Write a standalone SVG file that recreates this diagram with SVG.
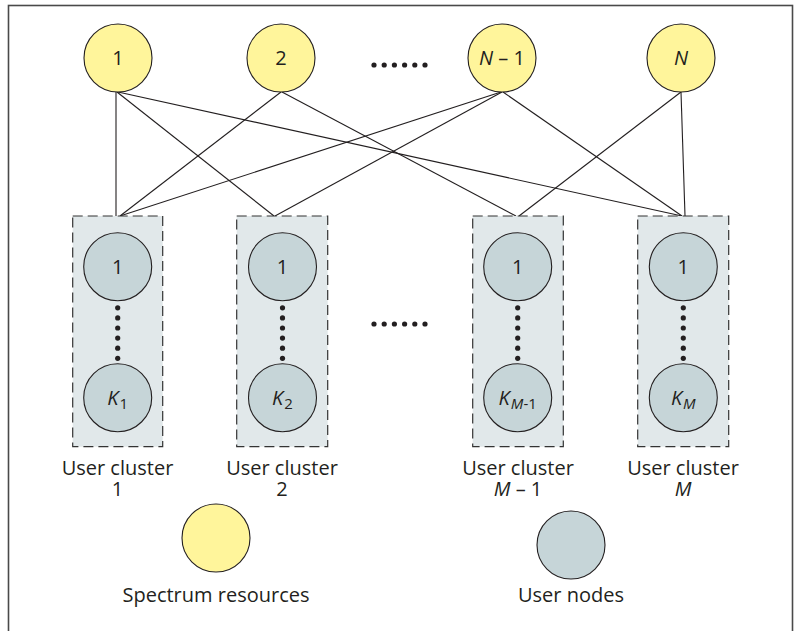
<svg xmlns="http://www.w3.org/2000/svg" width="801" height="631" viewBox="0 0 801 631">
  <style>
    text { font-family: "Open Sans", "Noto Sans", "Liberation Sans", sans-serif; fill: #231f20; }
    .lbl { font-size: 20px; text-anchor: middle; }
    .cap { font-size: 20px; text-anchor: middle; }
    .it { font-style: italic; }
    .sub { font-size: 15px; }
    .res { fill: #fff59b; stroke: #231f20; stroke-width: 1.1; }
    .usr { fill: #c6d5d8; stroke: #231f20; stroke-width: 1.1; }
    .box { fill: #e1e8ea; stroke: #333; stroke-width: 1.2; stroke-dasharray: 10 5; }
    .edge { stroke: #231f20; stroke-width: 1.1; fill: none; }
    .dot { fill: #231f20; }
  </style>
  <defs>
    <g id="vdots">
      <circle class="dot" cx="0" cy="0" r="2.6"/>
      <circle class="dot" cx="0" cy="10.1" r="2.6"/>
      <circle class="dot" cx="0" cy="20.2" r="2.6"/>
      <circle class="dot" cx="0" cy="30.3" r="2.6"/>
      <circle class="dot" cx="0" cy="40.4" r="2.6"/>
      <circle class="dot" cx="0" cy="50.5" r="2.6"/>
    </g>
    <g id="hdots">
      <circle class="dot" cx="0" cy="0" r="2.6"/>
      <circle class="dot" cx="10.2" cy="0" r="2.6"/>
      <circle class="dot" cx="20.4" cy="0" r="2.6"/>
      <circle class="dot" cx="30.6" cy="0" r="2.6"/>
      <circle class="dot" cx="40.8" cy="0" r="2.6"/>
      <circle class="dot" cx="51" cy="0" r="2.6"/>
    </g>
  </defs>

  <rect width="801" height="631" fill="#fff"/>
  <!-- outer frame -->
  <rect x="8.5" y="5.5" width="784" height="640" fill="none" stroke="#4a4a4a" stroke-width="1.6"/>

  <!-- links between spectrum resources and user clusters -->
  <g id="connectors">
    <line class="edge" x1="116" y1="92" x2="116" y2="216"/>
    <line class="edge" x1="117" y1="92" x2="274" y2="216"/>
    <line class="edge" x1="118" y1="92" x2="682" y2="216"/>
    <line class="edge" x1="281" y1="92" x2="120" y2="216"/>
    <line class="edge" x1="282" y1="92" x2="516" y2="216"/>
    <line class="edge" x1="501" y1="92" x2="120" y2="216"/>
    <line class="edge" x1="502" y1="92" x2="275" y2="216"/>
    <line class="edge" x1="503" y1="92" x2="682" y2="216"/>
    <line class="edge" x1="681" y1="92" x2="519" y2="216"/>
    <line class="edge" x1="681" y1="92" x2="685" y2="216"/>
  </g>

  <!-- spectrum resources -->
  <g id="res-1">
    <circle class="res" cx="118" cy="58" r="34"/>
    <text class="lbl" x="118" y="64.5">1</text>
  </g>
  <g id="res-2">
    <circle class="res" cx="281" cy="58" r="34"/>
    <text class="lbl" x="281" y="64.5">2</text>
  </g>
  <g id="res-dots">
    <use href="#hdots" x="374" y="65"/>
  </g>
  <g id="res-n1">
    <circle class="res" cx="502" cy="58" r="34"/>
    <text class="lbl" x="502" y="64.5"><tspan class="it">N</tspan> – 1</text>
  </g>
  <g id="res-n">
    <circle class="res" cx="681" cy="58" r="34"/>
    <text class="lbl it" x="681" y="64.5">N</text>
  </g>

  <!-- user clusters -->
  <g id="cluster-1">
    <rect class="box" x="72.7" y="216" width="90" height="230.7"/>
    <circle class="usr" cx="117.7" cy="266.7" r="34"/>
    <text class="lbl" x="117.7" y="273.5">1</text>
    <use href="#vdots" x="117.7" y="307.8"/>
    <circle class="usr" cx="117.7" cy="397.7" r="34"/>
    <text class="lbl" x="117.7" y="404.5"><tspan class="it">K</tspan><tspan class="sub" dx="1" dy="4">1</tspan></text>
    <text class="cap" x="117.5" y="475">User cluster<tspan x="117.5" dy="21">1</tspan></text>
  </g>
  <g id="cluster-2">
    <rect class="box" x="236.7" y="216" width="91" height="230.7"/>
    <circle class="usr" cx="282.5" cy="266.7" r="34"/>
    <text class="lbl" x="282.5" y="273.5">1</text>
    <use href="#vdots" x="282.5" y="307.8"/>
    <circle class="usr" cx="282.5" cy="397.7" r="34"/>
    <text class="lbl" x="282.5" y="404.5"><tspan class="it">K</tspan><tspan class="sub" dx="1" dy="4">2</tspan></text>
    <text class="cap" x="282" y="475">User cluster<tspan x="282" dy="21">2</tspan></text>
  </g>
  <g id="cluster-dots">
    <use href="#hdots" x="374" y="324"/>
  </g>
  <g id="cluster-m1">
    <rect class="box" x="472.7" y="216" width="90.6" height="230.7"/>
    <circle class="usr" cx="517.7" cy="266.7" r="34"/>
    <text class="lbl" x="517.7" y="273.5">1</text>
    <use href="#vdots" x="517.7" y="307.8"/>
    <circle class="usr" cx="517.7" cy="397.7" r="34"/>
    <text class="lbl" x="517.7" y="404.5"><tspan class="it">K</tspan><tspan class="sub" dx="1" dy="4"><tspan class="it">M</tspan>-1</tspan></text>
    <text class="cap" x="518" y="475">User cluster<tspan x="518" dy="21"><tspan class="it">M</tspan> – 1</tspan></text>
  </g>
  <g id="cluster-m">
    <rect class="box" x="637.7" y="216" width="91" height="230.7"/>
    <circle class="usr" cx="683.3" cy="266.7" r="34"/>
    <text class="lbl" x="683.3" y="273.5">1</text>
    <use href="#vdots" x="683.3" y="307.8"/>
    <circle class="usr" cx="683.3" cy="397.7" r="34"/>
    <text class="lbl" x="683.3" y="404.5"><tspan class="it">K</tspan><tspan class="sub it" dx="1" dy="4">M</tspan></text>
    <text class="cap" x="683" y="475">User cluster<tspan class="it" x="683" dy="21">M</tspan></text>
  </g>

  <!-- legend -->
  <g id="legend-resources">
    <circle class="res" cx="216" cy="538" r="34"/>
    <text class="cap" x="216" y="601.5">Spectrum resources</text>
  </g>
  <g id="legend-users">
    <circle class="usr" cx="571" cy="545" r="34"/>
    <text class="cap" x="571" y="601.5">User nodes</text>
  </g>
</svg>
